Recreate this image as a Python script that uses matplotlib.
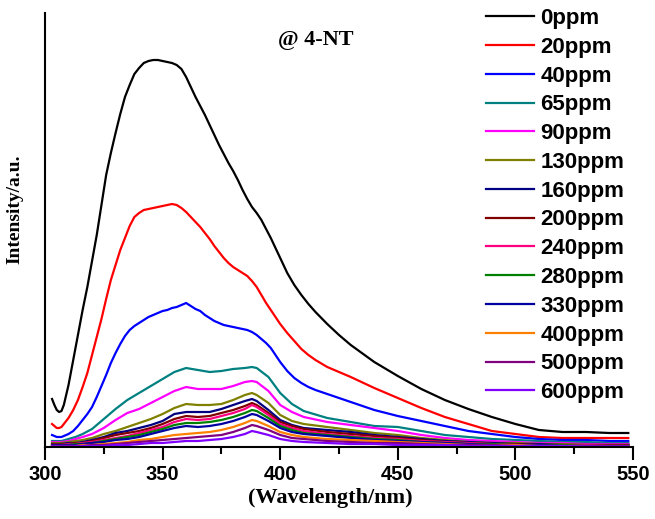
import matplotlib
matplotlib.use("Agg")
import matplotlib.pyplot as plt
from matplotlib.ticker import MultipleLocator

# finer grid for the three strong spectra
wl_fine = [303, 304, 305, 306, 307, 308,
           310, 312, 314, 316, 318, 320,
           322, 324, 326, 328, 330, 332, 334, 336, 338, 340,
           342, 344, 346, 348, 350, 352, 354, 356, 358, 360,
           362, 364, 366, 368, 370, 372, 374, 376, 378, 380,
           382, 384, 386, 388, 390, 392, 394, 396, 398, 400,
           403, 406, 409, 412, 415, 420, 425, 430,
           440, 450, 460, 470, 480, 490, 500, 510, 520, 530, 540, 548]

# coarser grid for the weak spectra
wavelength = [303, 305, 307, 310, 313, 316, 320,
              325, 330, 335, 340, 345, 350, 355, 360, 365, 370, 375, 380, 385,
              388, 390,
              395, 400, 405, 410,
              420, 430, 440, 450, 460, 470, 480, 490, 500, 510, 520, 530, 540,
              548]

labels = ["0ppm", "20ppm", "40ppm", "65ppm", "90ppm", "130ppm", "160ppm",
          "200ppm", "240ppm", "280ppm", "330ppm", "400ppm", "500ppm", "600ppm"]

colors = ["#000000", "#ff0000", "#0000ff", "#008080", "#ff00ff", "#808000", "#000080",
          "#800000", "#ff0080", "#008000", "#0000a0", "#ff8000", "#800080", "#8000ff"]

i_0 = [48, 42, 37, 35, 36, 42,
       62, 87, 112, 137, 160, 186,
       212, 242, 272, 294, 314, 333, 350, 362, 373, 379,
       384, 386, 387, 387, 386, 385, 384, 382, 378, 370,
       360, 350, 341, 332, 322, 312, 302, 293, 284, 276,
       267, 257, 248, 240, 234, 227, 218, 209, 199, 189,
       174, 162, 152, 143, 135, 123, 112, 102,
       85, 71, 58, 47, 38, 30, 23, 17, 15, 15, 14, 14]
i_20 = [23, 21, 19, 19, 20, 23,
        29, 37, 47, 60, 74, 92,
        110, 128, 148, 167, 182, 197, 209, 221, 230, 234,
        237, 238, 239, 240, 241, 242, 243, 242, 239, 235,
        230, 225, 220, 214, 208, 201, 195, 189, 184, 180,
        177, 174, 171, 166, 160, 152, 144, 137, 130, 123,
        114, 106, 98, 92, 87, 80, 75, 70,
        59, 49, 39, 30, 23, 16, 13, 10, 9, 9, 9, 9]
i_40 = [12, 11, 10, 10, 10, 11,
        13, 16, 21, 27, 33, 40,
        50, 61, 72, 84, 94, 103, 111, 117, 121, 124,
        127, 130, 132, 134, 136, 137, 139, 140, 142, 144,
        141, 138, 136, 132, 129, 126, 124, 122, 121, 120,
        119, 118, 117, 115, 112, 108, 104, 99, 92, 85,
        76, 69, 64, 60, 57, 53, 49, 45,
        37, 31, 26, 21, 16, 13, 10, 8, 7, 7, 6, 6]
i_65 = [6, 6, 6, 8, 10, 13, 18,
        28, 38, 47, 54, 61, 68, 75, 79, 77, 75, 76, 78, 79,
        80, 79,
        70, 54, 43, 36,
        29, 25, 21, 20, 16, 12, 10, 8, 7, 6, 5, 5, 4,
        4]
i_90 = [5, 5, 5, 6, 8, 10, 13,
        19, 27, 34, 38, 44, 50, 56, 60, 58, 58, 58, 61, 65,
        66, 65,
        56, 42, 35, 30,
        25, 22, 19, 16, 12, 9, 7, 6, 5, 4, 4, 3, 3,
        3]
i_130 = [4, 4, 4, 5, 6, 7, 9,
         13, 16, 20, 24, 28, 33, 39, 43, 42, 42, 43, 47, 52,
         54, 52,
         44, 32, 26, 23,
         20, 17, 14, 12, 9, 7, 5, 4, 4, 3, 3, 2, 2,
         2]
i_160 = [3, 3, 3, 4, 4, 5, 7,
         10, 14, 16, 19, 22, 26, 33, 35, 35, 35, 38, 42, 46,
         48, 46,
         37, 27, 22, 19,
         17, 15, 12, 10, 8, 6, 5, 4, 3, 3, 2, 2, 2,
         2]
i_200 = [3, 3, 3, 3, 4, 4, 6,
         9, 12, 14, 16, 19, 23, 28, 31, 30, 31, 34, 37, 41,
         44, 42,
         34, 25, 21, 18,
         15, 13, 11, 9, 7, 5, 4, 3, 3, 2, 2, 2, 2,
         2]
i_240 = [2, 2, 2, 3, 3, 4, 5,
         7, 9, 11, 14, 17, 20, 25, 28, 27, 28, 31, 34, 38,
         42, 40,
         32, 23, 19, 16,
         13, 11, 9, 8, 6, 5, 4, 3, 2, 2, 2, 2, 1,
         1]
i_280 = [2, 2, 2, 2, 3, 3, 4,
         6, 8, 10, 12, 15, 18, 22, 24, 24, 25, 27, 30, 34,
         37, 36,
         29, 21, 17, 14,
         12, 10, 8, 7, 5, 4, 3, 3, 2, 2, 2, 1, 1,
         1]
i_330 = [2, 2, 2, 2, 2, 3, 4,
         5, 7, 8, 10, 13, 16, 19, 21, 20, 21, 23, 26, 30,
         33, 32,
         26, 19, 15, 13,
         11, 9, 7, 6, 5, 4, 3, 2, 2, 2, 1, 1, 1,
         1]
i_400 = [1, 1, 1, 1, 1, 2, 2,
         3, 4, 5, 7, 8, 10, 12, 13, 14, 15, 17, 20, 24,
         27, 26,
         21, 15, 12, 10,
         8, 7, 6, 5, 4, 3, 2, 2, 2, 1, 1, 1, 1,
         1]
i_500 = [1, 1, 1, 1, 1, 1, 2,
         2, 3, 4, 5, 6, 7, 8, 9, 10, 11, 12, 15, 19,
         22, 21,
         17, 12, 9, 8,
         6, 5, 4, 4, 3, 2, 2, 2, 1, 1, 1, 1, 1,
         1]
i_600 = [0.5, 0.5, 0.5, 0.5, 0.5, 1, 1,
         1, 2, 2, 3, 4, 4, 5, 6, 6, 7, 8, 10, 13,
         16, 15,
         12, 8, 6, 5,
         4, 3, 3, 2, 2, 2, 1, 1, 1, 1, 1, 0.5, 0.5,
         0.5]

series = [i_0, i_20, i_40, i_65, i_90, i_130, i_160,
          i_200, i_240, i_280, i_330, i_400, i_500, i_600]

sans = "Liberation Sans"
serif = "Liberation Serif"

fig = plt.figure(figsize=(6.55, 5.19), dpi=100)
ax = fig.add_axes([45 / 655, 72 / 519, 588 / 655, 434 / 519])

for vals, lab, col in zip(series, labels, colors):
    xs = wl_fine if len(vals) == len(wl_fine) else wavelength
    ax.plot(xs, vals, color=col, lw=1.6, label=lab)

ax.set_xlim(300, 550)
ax.set_ylim(0, 434)
ax.xaxis.set_major_locator(MultipleLocator(50))
ax.xaxis.set_minor_locator(MultipleLocator(25))
ax.set_yticks([])
ax.tick_params(axis="x", which="major", direction="out", length=9, width=1.5, pad=4)
ax.tick_params(axis="x", which="minor", direction="out", length=5, width=1.5)
for lbl in ax.get_xticklabels():
    lbl.set_fontfamily(sans)
    lbl.set_fontweight("bold")
    lbl.set_fontsize(14.5)

ax.spines["top"].set_visible(False)
ax.spines["right"].set_visible(False)
ax.spines["left"].set_linewidth(1.5)
ax.spines["bottom"].set_linewidth(1.5)

ax.set_xlabel("(Wavelength/nm)", fontfamily=serif, fontweight="bold", fontsize=16)
ax.xaxis.set_label_coords(0.486, -0.094)
ax.set_ylabel("Intensity/a.u.", fontfamily=serif, fontweight="bold", fontsize=14)
ax.yaxis.set_label_coords(-0.037, 0.548)

fig.text(316 / 655, 1 - 40 / 519, "@ 4-NT", fontfamily=serif, fontweight="bold",
         fontsize=16, ha="center", va="center")

leg = ax.legend(loc="upper left", bbox_to_anchor=(486 / 655, 1 - 8 / 519),
                bbox_transform=fig.transFigure, frameon=False, borderpad=0,
                borderaxespad=0, handlelength=2.15, handletextpad=0.3,
                labelspacing=0.35, prop={"family": sans, "weight": "bold", "size": 16})
for h in leg.get_lines():
    h.set_linewidth(1.6)

fig.savefig("out.png", dpi=100)
